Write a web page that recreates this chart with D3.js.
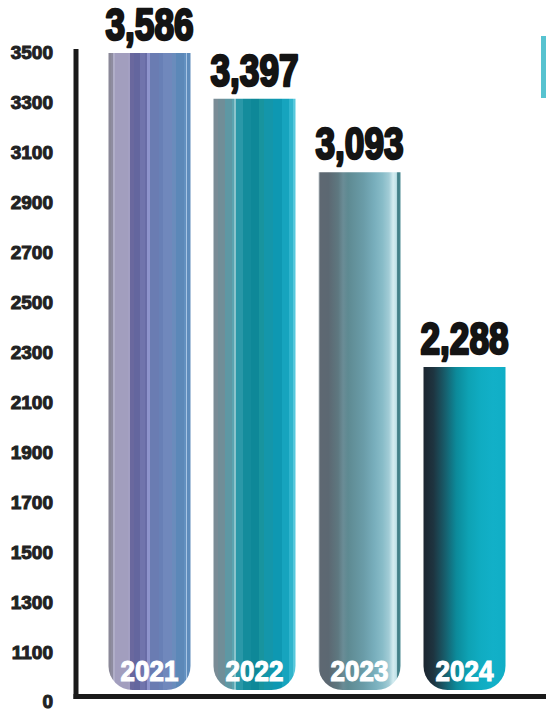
<!DOCTYPE html>
<html>
<head>
<meta charset="utf-8">
<script src="https://cdn.jsdelivr.net/npm/d3@7/dist/d3.min.js"></script>
<style>
  html, body { margin: 0; padding: 0; background: #ffffff; }
  svg { display: block; }
</style>
</head>
<body>
<svg id="chart" width="546" height="712"></svg>
<script>
// ---- data ----
const years = ["2021", "2022", "2023", "2024"];
const values = [3586, 3397, 3093, 2288];
const valueLabels = ["3,586", "3,397", "3,093", "2,288"];
const tickValues = [0, 1100, 1300, 1500, 1700, 1900, 2100, 2300, 2500, 2700, 2900, 3100, 3300, 3500];
const tickLabels = ["0", "1100", "1300", "1500", "1700", "1900", "2100", "2300", "2500", "2700", "2900", "3100", "3300", "3500"];

// ---- styles ----
const barStops = {
  "2021": [[0, "#8a8898"], [0.03, "#8e8ca0"], [0.05, "#b0aec8"], [0.08, "#a29ebe"], [0.24, "#a4a0c2"], [0.26, "#6a689e"], [0.31, "#64669e"], [0.38, "#7074ac"], [0.44, "#686ca6"], [0.47, "#8e94cc"], [0.50, "#6a7cb2"], [0.62, "#6880b6"], [0.66, "#7088bc"], [0.78, "#6a8cbc"], [0.82, "#5c88b8"], [0.92, "#6290c0"], [0.94, "#a8c4e4"], [0.96, "#5e8cbc"], [1, "#5a88b6"]],
  "2022": [[0, "#7a8c96"], [0.06, "#708e98"], [0.14, "#5e98a4"], [0.22, "#5aa4b0"], [0.25, "#8cc4cc"], [0.28, "#2a98a8"], [0.36, "#148c9c"], [0.46, "#0e8898"], [0.55, "#18949e"], [0.62, "#1496aa"], [0.72, "#0e98b2"], [0.84, "#16a4be"], [0.92, "#30b4cc"], [0.97, "#58c8dc"], [1, "#40bcd4"]],
  "2023": [[0, "#c4ccd0"], [0.02, "#5e6872"], [0.12, "#5c6872"], [0.24, "#5e7880"], [0.30, "#6a8c96"], [0.36, "#5e8a92"], [0.55, "#6a9ca8"], [0.68, "#78aebc"], [0.78, "#88bcc8"], [0.86, "#a2ccd6"], [0.91, "#d4ecf0"], [0.95, "#c0e2e8"], [0.965, "#3e7c84"], [1, "#4a8a92"]],
  "2024": [[0, "#1c2630"], [0.12, "#1e3440"], [0.25, "#185a68"], [0.40, "#0c8a9a"], [0.55, "#0ea2b4"], [0.70, "#10acc2"], [0.85, "#12b0c8"], [1, "#10aec6"]]
};
const barStriped = { "2021": true, "2022": true, "2023": false, "2024": false };

const W = 546, H = 712;
const svg = d3.select("#chart");
const defs = svg.append("defs");

// scales
const x = d3.scaleBand().domain(years).range([97, 517]).paddingInner(0.219).paddingOuter(0.1095);
const yAxisScale = d3.scaleLinear().domain([0, 1100, 3500]).range([701, 652, 52]);
const yBar = d3.scaleLinear().domain([1000, 3600]).range([678.6, 49.6]);
const barBottom = 690;
const r = 24;

// gradients
years.forEach(yr => {
  const g = defs.append("linearGradient").attr("id", "g" + yr)
    .attr("x1", "0%").attr("x2", "100%").attr("y1", "0%").attr("y2", "0%");
  const stops = barStops[yr];
  stops.forEach((s, i) => {
    g.append("stop").attr("offset", s[0]).attr("stop-color", s[1]);
    if (barStriped[yr] && i < stops.length - 1) {
      g.append("stop").attr("offset", stops[i + 1][0]).attr("stop-color", s[1]);
    }
  });
});

function barPath(x0, w, top, bottom, rad) {
  return `M${x0},${top} H${x0 + w} V${bottom - rad} A${rad},${rad} 0 0 1 ${x0 + w - rad},${bottom} H${x0 + rad} A${rad},${rad} 0 0 1 ${x0},${bottom - rad} Z`;
}

// bars
const bars = svg.append("g");
years.forEach((yr, i) => {
  bars.append("path")
    .attr("d", barPath(x(yr), x.bandwidth(), yBar(values[i]), barBottom, r))
    .attr("fill", `url(#g${yr})`);
});

// year labels inside bars
svg.append("g").selectAll("text").data(years).join("text")
  .attr("transform", d => `translate(${x(d) + x.bandwidth() / 2},671) scale(1,1.15)`)
  .attr("text-anchor", "middle")
  .attr("dominant-baseline", "central")
  .attr("font-family", "'Liberation Sans', Arial, sans-serif")
  .attr("font-weight", "bold")
  .attr("font-size", 26)
  .attr("fill", "#ffffff")
  .attr("stroke", "#ffffff")
  .attr("stroke-width", 1)
  .text(d => d);

// value labels
svg.append("g").selectAll("text").data(years).join("text")
  .attr("transform", (d, i) => `translate(${x(d) + x.bandwidth() / 2},${yBar(values[i]) - 13}) scale(0.86,1.08)`)
  .attr("text-anchor", "middle")
  .attr("font-family", "'Liberation Sans', Arial, sans-serif")
  .attr("font-weight", "bold")
  .attr("font-size", 41)
  .attr("fill", "#141414")
  .attr("stroke", "#141414")
  .attr("stroke-width", 2.4)
  .attr("stroke-linejoin", "round")
  .text((d, i) => valueLabels[i]);

// y axis ticks
const axis = d3.axisLeft(yAxisScale).tickValues(tickValues).tickSize(0).tickPadding(0)
  .tickFormat((d, i) => tickLabels[i]);
const ag = svg.append("g").attr("transform", "translate(53,0)").call(axis);
ag.select(".domain").remove();
ag.selectAll("text")
  .attr("font-family", "'Liberation Sans', Arial, sans-serif")
  .attr("font-weight", "bold")
  .attr("font-size", 19)
  .attr("fill", "#222222")
  .attr("stroke", "#222222")
  .attr("stroke-width", 1)
  .attr("dy", "0.36em");

// axis lines
svg.append("line").attr("x1", 76).attr("x2", 76).attr("y1", 49).attr("y2", 699)
  .attr("stroke", "#1a1a1a").attr("stroke-width", 5);
svg.append("line").attr("x1", 73.5).attr("x2", W).attr("y1", 696.5).attr("y2", 696.5)
  .attr("stroke", "#1a1a1a").attr("stroke-width", 5);

// cut-off legend swatch at right edge
svg.append("rect").attr("x", 541).attr("y", 36).attr("width", 5).attr("height", 62)
  .attr("fill", "#3ab8c8").attr("opacity", 0.85);
</script>
</body>
</html>
